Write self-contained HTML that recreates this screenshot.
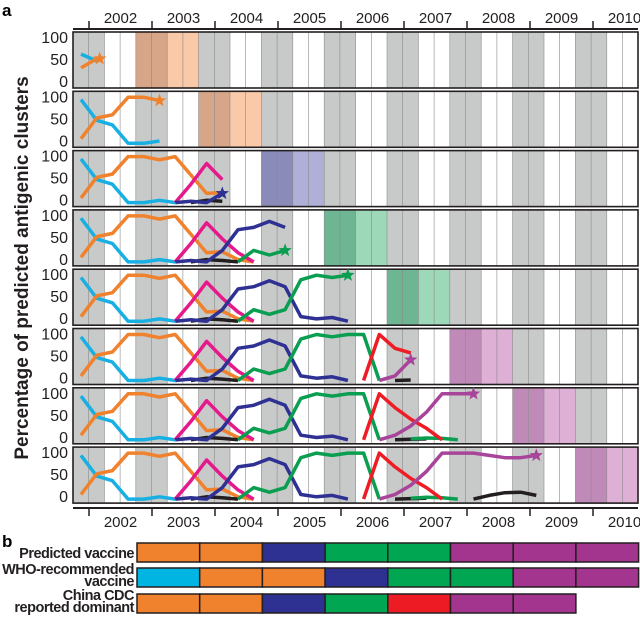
<!DOCTYPE html>
<html><head><meta charset="utf-8"><style>
body{margin:0;background:#fff;width:640px;height:618px;overflow:hidden}
svg{display:block;font-family:"Liberation Sans",sans-serif}
</style></head><body>
<svg id="s" width="640" height="618" xmlns="http://www.w3.org/2000/svg"></svg>
<script>
const S=document.getElementById('s');let h='';
const X0=73,CW=15.7,XR=638;
const px=i=>81+15.7*i;
const C={cy:'#18b0e2',or:'#f0822e',mg:'#e6198c',nv:'#2e3192',gr:'#0a9e50',rd:'#ee1c25',pu:'#a8459a',bk:'#231f20'};
const OV={or:['#d7a587','#f9c9a8'],nv:['#8a8bb9','#afafd8'],gr:['#6db593','#9dd9b8'],pu:['#c08ab8','#deb0d6']};
const ovRow=[['or',4],['or',8],['nv',12],['gr',16],['gr',20],['pu',24],['pu',28],['pu',32]];
const base=[
['cy',0,[95,50,40,0,0,5,0]],
['or',0,[10,55,62,100,100,93,100,60,20,22,5,0]],
['mg',6,[0,40,85,50,20,0]],
['bk',7,[0,5,3,0]],
['nv',6,[0,3,0,25,70,75,88,75,10,5,8,0]],
['gr',10,[0,25,15,25,90,100,95,100,100,0]],
['bk',20,[0,1,2]],
['gr',21,[2,4,3,0]],
['rd',18,[0,100,70,45,25,0]],
['pu',19,[0,10,30,60,100,100,100,95,90,90,95]],
['bk',25,[0,8,14,15,8]]
];
const starOf=[['or',1],['or',5],['nv',9],['gr',13],['gr',17],['pu',21],['pu',25],['pu',29]];
function star(cx,cy,r,col){let p=[];for(let k=0;k<10;k++){const a=-Math.PI/2+k*Math.PI/5,rr=k%2?r*0.42:r;p.push((cx+rr*Math.cos(a)).toFixed(1)+','+(cy+rr*Math.sin(a)).toFixed(1));}return `<polygon points="${p.join(' ')}" fill="${col}"/>`;}
for(let k=0;k<8;k++){
 const top=32+59.3*k,H=56,y=v=>top+52-v*0.46;
 h+=`<rect x="${X0}" y="${top}" width="${XR-X0}" height="${H}" fill="#fff"/>`;
 for(let c=0;c<36;c++){const gray=Math.floor(c/2)%2==0;const [oc,os]=ovRow[k];let f=gray?'#c8cac9':'#fff';
  if(c>=os&&c<os+4){f=OV[oc][c-os<2?0:1];}
  h+=`<rect x="${X0+c*CW}" y="${top}" width="${CW+0.2}" height="${H}" fill="${f}"/>`;}
 for(let c=1;c<36;c++)h+=`<line x1="${X0+c*CW}" y1="${top}" x2="${X0+c*CW}" y2="${top+H}" stroke="#8a8a8a" stroke-width="0.6"/>`;
 h+=`<rect x="${X0}" y="${top}" width="${XR-X0}" height="${H}" fill="none" stroke="#231f20" stroke-width="1.6"/>`;
 const lim=1+4*k;
 const ov={};
 if(k==0){ov.cy=[65,50];ov.or=[35,55];}
 if(k==2){ov.nv9=20;ov.mg9=50;}
 if(k==3){ov.gr13=25;}
 if(k==5){ov.pu21=45;ov.rd21=60;}
 for(const [col,st,vals] of base){
  let v=vals.slice();
  if(k==0&&ov[col])v=ov[col];
  let pts=[];for(let j=0;j<v.length;j++){const i=st+j;if(i>lim)break;let val=v[j];const key=col+i;if(ov[key]!==undefined)val=ov[key];pts.push(px(i).toFixed(1)+','+y(val).toFixed(1));}
  if(pts.length>1)h+=`<polyline points="${pts.join(' ')}" fill="none" stroke="${C[col]}" stroke-width="3.5" stroke-linejoin="round"/>`;
 }
 const [sc,si]=starOf[k];let sv;
 for(const [col,st,vals] of base){if(col==sc&&si>=st&&si<st+vals.length){sv=vals[si-st];}}
 if(k==0)sv=55;const key=sc+si;if(ov[key]!==undefined)sv=ov[key];
 h+=star(px(si)+(k==0?3:0),y(sv),7,C[sc]);
 [[100,6],[50,28],[0,50]].forEach(([t,o])=>h+=`<text x="68" y="${top+o+5}" font-size="16" text-anchor="end" fill="#231f20">${t}</text>`);
}
const tk=[89,152,215,278,341,404,467,530,593],yr=[2002,2003,2004,2005,2006,2007,2008,2009,2010];
h+=`<line x1="73" y1="29" x2="638" y2="29" stroke="#231f20" stroke-width="2"/>`;
h+=`<line x1="73" y1="508" x2="638" y2="508" stroke="#231f20" stroke-width="2"/>`;
tk.forEach((x,j)=>{h+=`<line x1="${x}" y1="21" x2="${x}" y2="29" stroke="#231f20" stroke-width="1.5"/><line x1="${x}" y1="508" x2="${x}" y2="516" stroke="#231f20" stroke-width="1.5"/>`;
 const cx=x+31.5;h+=`<text x="${cx}" y="23" font-size="15" text-anchor="middle" fill="#231f20">${yr[j]}</text><text x="${cx}" y="527" font-size="15" text-anchor="middle" fill="#231f20">${yr[j]}</text>`;});
h+=`<text x="2" y="16" font-size="17" font-weight="bold">a</text><text x="2" y="547" font-size="17" font-weight="bold">b</text>`;
h+=`<text transform="translate(28,268) rotate(-90)" font-size="19" font-weight="bold" text-anchor="middle" fill="#231f20">Percentage of predicted antigenic clusters</text>`;
const B=[[543,['or','or','nv','gr','gr','pu','pu','pu']],[568,['cy','or','or','nv','gr','gr','pu','pu']],[594,['or','or','nv','gr','rd','pu','pu']]];
const BC={cy:'#00b5e2',or:'#f0822e',nv:'#2e3192',gr:'#00a651',rd:'#ed1c24',pu:'#a3358e'};
B.forEach(([yy,segs])=>{segs.forEach((c,j)=>{h+=`<rect x="${137+62.7*j}" y="${yy}" width="62.7" height="19" fill="${BC[c]}" stroke="#231f20" stroke-width="1.5"/>`;});});
const lab=(t,x,y)=>h+=`<text x="${x}" y="${y}" font-size="14.5" font-weight="bold" text-anchor="end" letter-spacing="-0.5" fill="#231f20">${t}</text>`;
lab('Predicted vaccine',134,558);lab('WHO-recommended',134,574);lab('vaccine',134,586);lab('China CDC',134,600);lab('reported dominant',134,612);
S.innerHTML=h;
</script>
</body></html>
